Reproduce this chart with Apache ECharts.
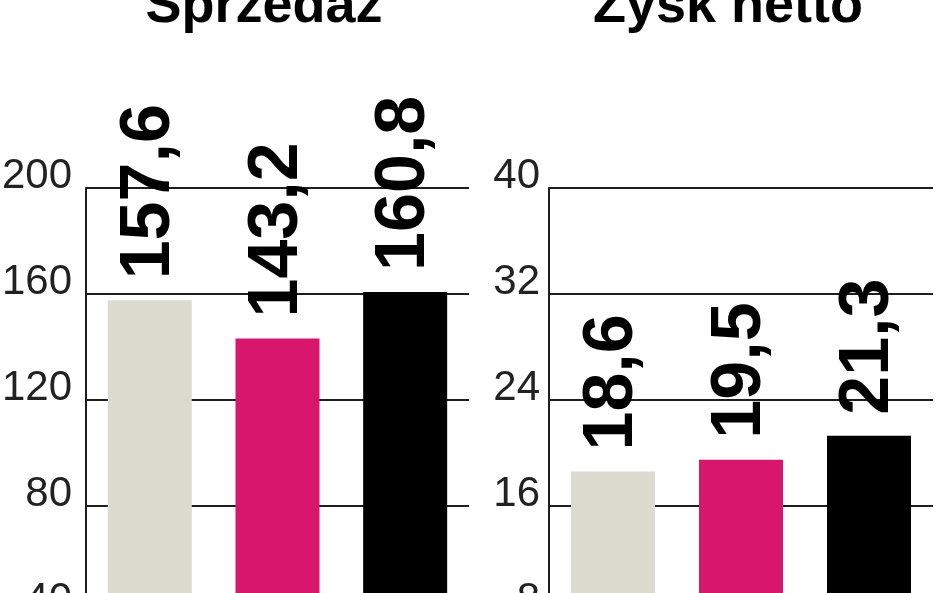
<!DOCTYPE html>
<html>
<head>
<meta charset="utf-8">
<script src="https://cdn.jsdelivr.net/npm/echarts@6/dist/echarts.min.js"></script>
<style>
  html, body { margin: 0; padding: 0; background: #fff; }
  #chart { width: 948px; height: 593px; }
</style>
</head>
<body>
<div id="chart"></div>
<script>
// data
const categories = ['1', '2', '3'];
const salesValues = [157.6, 143.2, 160.8];
const profitValues = [18.6, 19.5, 21.3];
const panelTitles = ['Sprzedaż', 'Zysk netto'];

const barColors = ['#dcdbd0', '#d8166e', '#000000'];
const lineColor = '#1e1e1e';
const font = 'Liberation Sans';

let myChart = echarts.init(document.getElementById('chart'));

const makeSeries = (values, idx) => ({
  type: 'bar',
  xAxisIndex: idx,
  yAxisIndex: idx,
  barWidth: 84,
  data: values.map((v, i) => ({ value: v, itemStyle: { color: barColors[i] } })),
  label: {
    show: true,
    position: 'top',
    rotate: 90,
    align: 'left',
    verticalAlign: 'middle',
    distance: 21,
    fontFamily: font,
    fontWeight: 'bold',
    fontSize: 70,
    color: '#000',
    formatter: (p) => p.value.toFixed(1).replace('.', ',')
  },
  z: 3
});

const makeY = (idx, max, interval, margin) => ({
  type: 'value',
  gridIndex: idx,
  min: 0,
  max: max,
  interval: interval,
  axisLine: { show: true, lineStyle: { color: lineColor, width: 2 } },
  axisTick: { show: false },
  splitLine: { show: true, lineStyle: { color: lineColor, width: 2 } },
  axisLabel: {
    margin: margin,
    formatter: (v) => '{t|' + v + '}',
    rich: {
      t: {
        fontFamily: font,
        fontSize: 42,
        color: '#222',
        padding: [0, 0, 24, 0]
      }
    }
  }
});

const makeX = (idx) => ({
  type: 'category',
  gridIndex: idx,
  data: categories,
  axisLine: { show: false },
  axisTick: { show: false },
  axisLabel: { show: false }
});

const titleStyle = { fontFamily: font, fontWeight: 'bold', fontSize: 54, color: '#000' };

const option = {
  backgroundColor: '#fff',
  animation: false,
  title: [
    { text: panelTitles[0], left: 259, top: -25, textAlign: 'center', textStyle: titleStyle },
    { text: panelTitles[1], left: 723, top: -25, textAlign: 'center', textStyle: titleStyle }
  ],
  grid: [
    { left: 86, top: 188, width: 383, height: 530, outerBoundsMode: 'none', containLabel: false },
    { left: 549, top: 188, width: 384, height: 530, outerBoundsMode: 'none', containLabel: false }
  ],
  xAxis: [makeX(0), makeX(1)],
  yAxis: [makeY(0, 200, 40, 14), makeY(1, 40, 8, 9)],
  series: [makeSeries(salesValues, 0), makeSeries(profitValues, 1)]
};

myChart.setOption(option, true);
</script>
</body>
</html>
